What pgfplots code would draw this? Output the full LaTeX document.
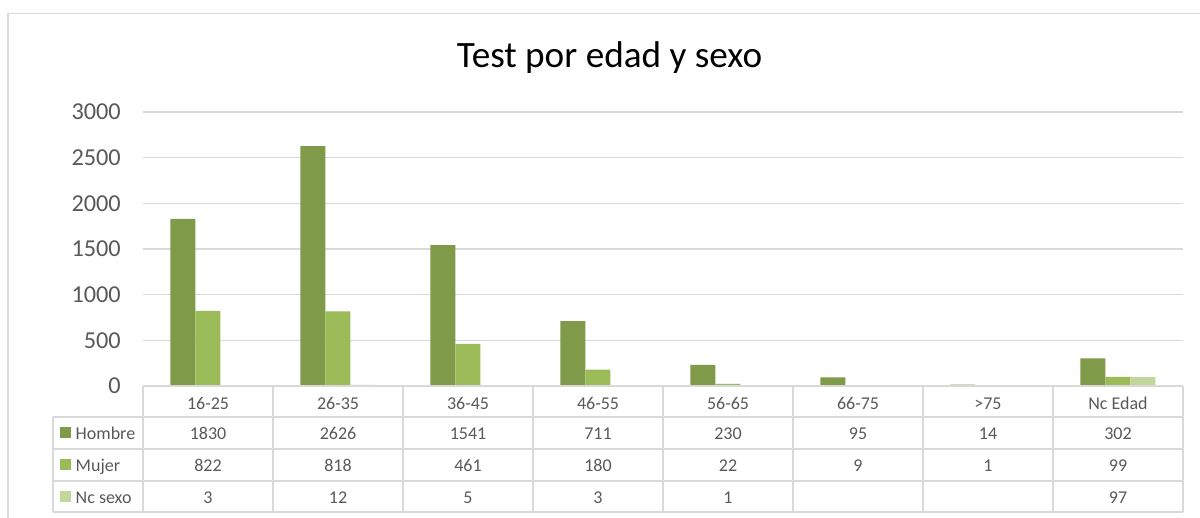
\documentclass[border=0pt]{standalone}
\usepackage{pgfplots}
\pgfplotsset{compat=1.18}
\usepackage{fontspec}
\setmainfont{Carlito}
\definecolor{hom}{HTML}{7F9A48}
\definecolor{muj}{HTML}{9BBB59}
\definecolor{ncs}{HTML}{C3D69B}
\definecolor{gridc}{HTML}{D9D9D9}
\definecolor{txt}{HTML}{595959}
\begin{document}
\begin{tikzpicture}[x=1pt,y=1pt]
\path[use as bounding box] (0,0) rectangle (1200,518);
\draw[gridc, line width=1.3pt] (8,0) -- (8,504.5) -- (1200,504.5);
\node[anchor=base, font=\fontsize{37.2}{41}\selectfont, text=black, inner sep=0pt] at (609.5,450) {Test por edad y sexo};
\begin{axis}[
  at={(143pt,132pt)}, anchor=south west,
  scale only axis, width=1040pt, height=274pt,
  xmin=-0.5, xmax=7.5, ymin=0, ymax=3000,
  ybar=0pt, bar width=25pt,
  axis line style={draw=none},
  xtick=\empty,
  ytick={0,500,...,3000},
  ymajorgrids, grid style={gridc, line width=1.3pt},
  major tick length=0pt,
  yticklabel style={font=\fontsize{24.3}{28}\selectfont, text=txt, inner sep=0pt, anchor=east, xshift=-22pt},
  /pgf/number format/assume math mode=true,
  /pgf/number format/set thousands separator={},
]
\addplot[fill=hom, draw=none] coordinates {(0,1830)(1,2626)(2,1541)(3,711)(4,230)(5,95)(6,14)(7,302)};
\addplot[fill=muj, draw=none] coordinates {(0,822)(1,818)(2,461)(3,180)(4,22)(5,9)(6,1)(7,99)};
\addplot[fill=ncs, draw=none] coordinates {(0,3)(1,12)(2,5)(3,3)(4,1)(7,97)};
\end{axis}
\begin{scope}[gridc, line width=1.3pt]
\draw (143,132) -- (1183,132);
\foreach \y in {101,69,37,6} \draw (53,\y) -- (1183,\y);
\draw (53,6) -- (53,101);
\foreach \i in {0,...,8} \draw ({143+130*\i},6) -- ({143+130*\i},132);
\end{scope}
\begin{scope}[font=\fontsize{18}{21}\selectfont]
\foreach \c [count=\i from 0] in {16-25,26-35,36-45,46-55,56-65,66-75,>75,Nc Edad}
  \node[anchor=base, text=txt, inner sep=0pt] at ({208+130*\i},108.7) {\c};
\foreach \v [count=\i from 0] in {1830,2626,1541,711,230,95,14,302}
  \node[anchor=base, text=txt, inner sep=0pt] at ({208+130*\i},78.7) {\v};
\foreach \v [count=\i from 0] in {822,818,461,180,22,9,1,99}
  \node[anchor=base, text=txt, inner sep=0pt] at ({208+130*\i},46.3) {\v};
\foreach \v [count=\i from 0] in {3,12,5,3,1,,,97}
  \node[anchor=base, text=txt, inner sep=0pt] at ({208+130*\i},14.7) {\v};
\fill[hom] (60,80) rectangle (71,91);
\fill[muj] (60,48) rectangle (71,59);
\fill[ncs] (60,16) rectangle (71,27);
\node[anchor=base west, text=txt, inner sep=0pt] at (75.5,78.7) {Hombre};
\node[anchor=base west, text=txt, inner sep=0pt] at (75.5,46.3) {Mujer};
\node[anchor=base west, text=txt, inner sep=0pt] at (75.5,14.7) {Nc sexo};
\end{scope}
\end{tikzpicture}
\end{document}
